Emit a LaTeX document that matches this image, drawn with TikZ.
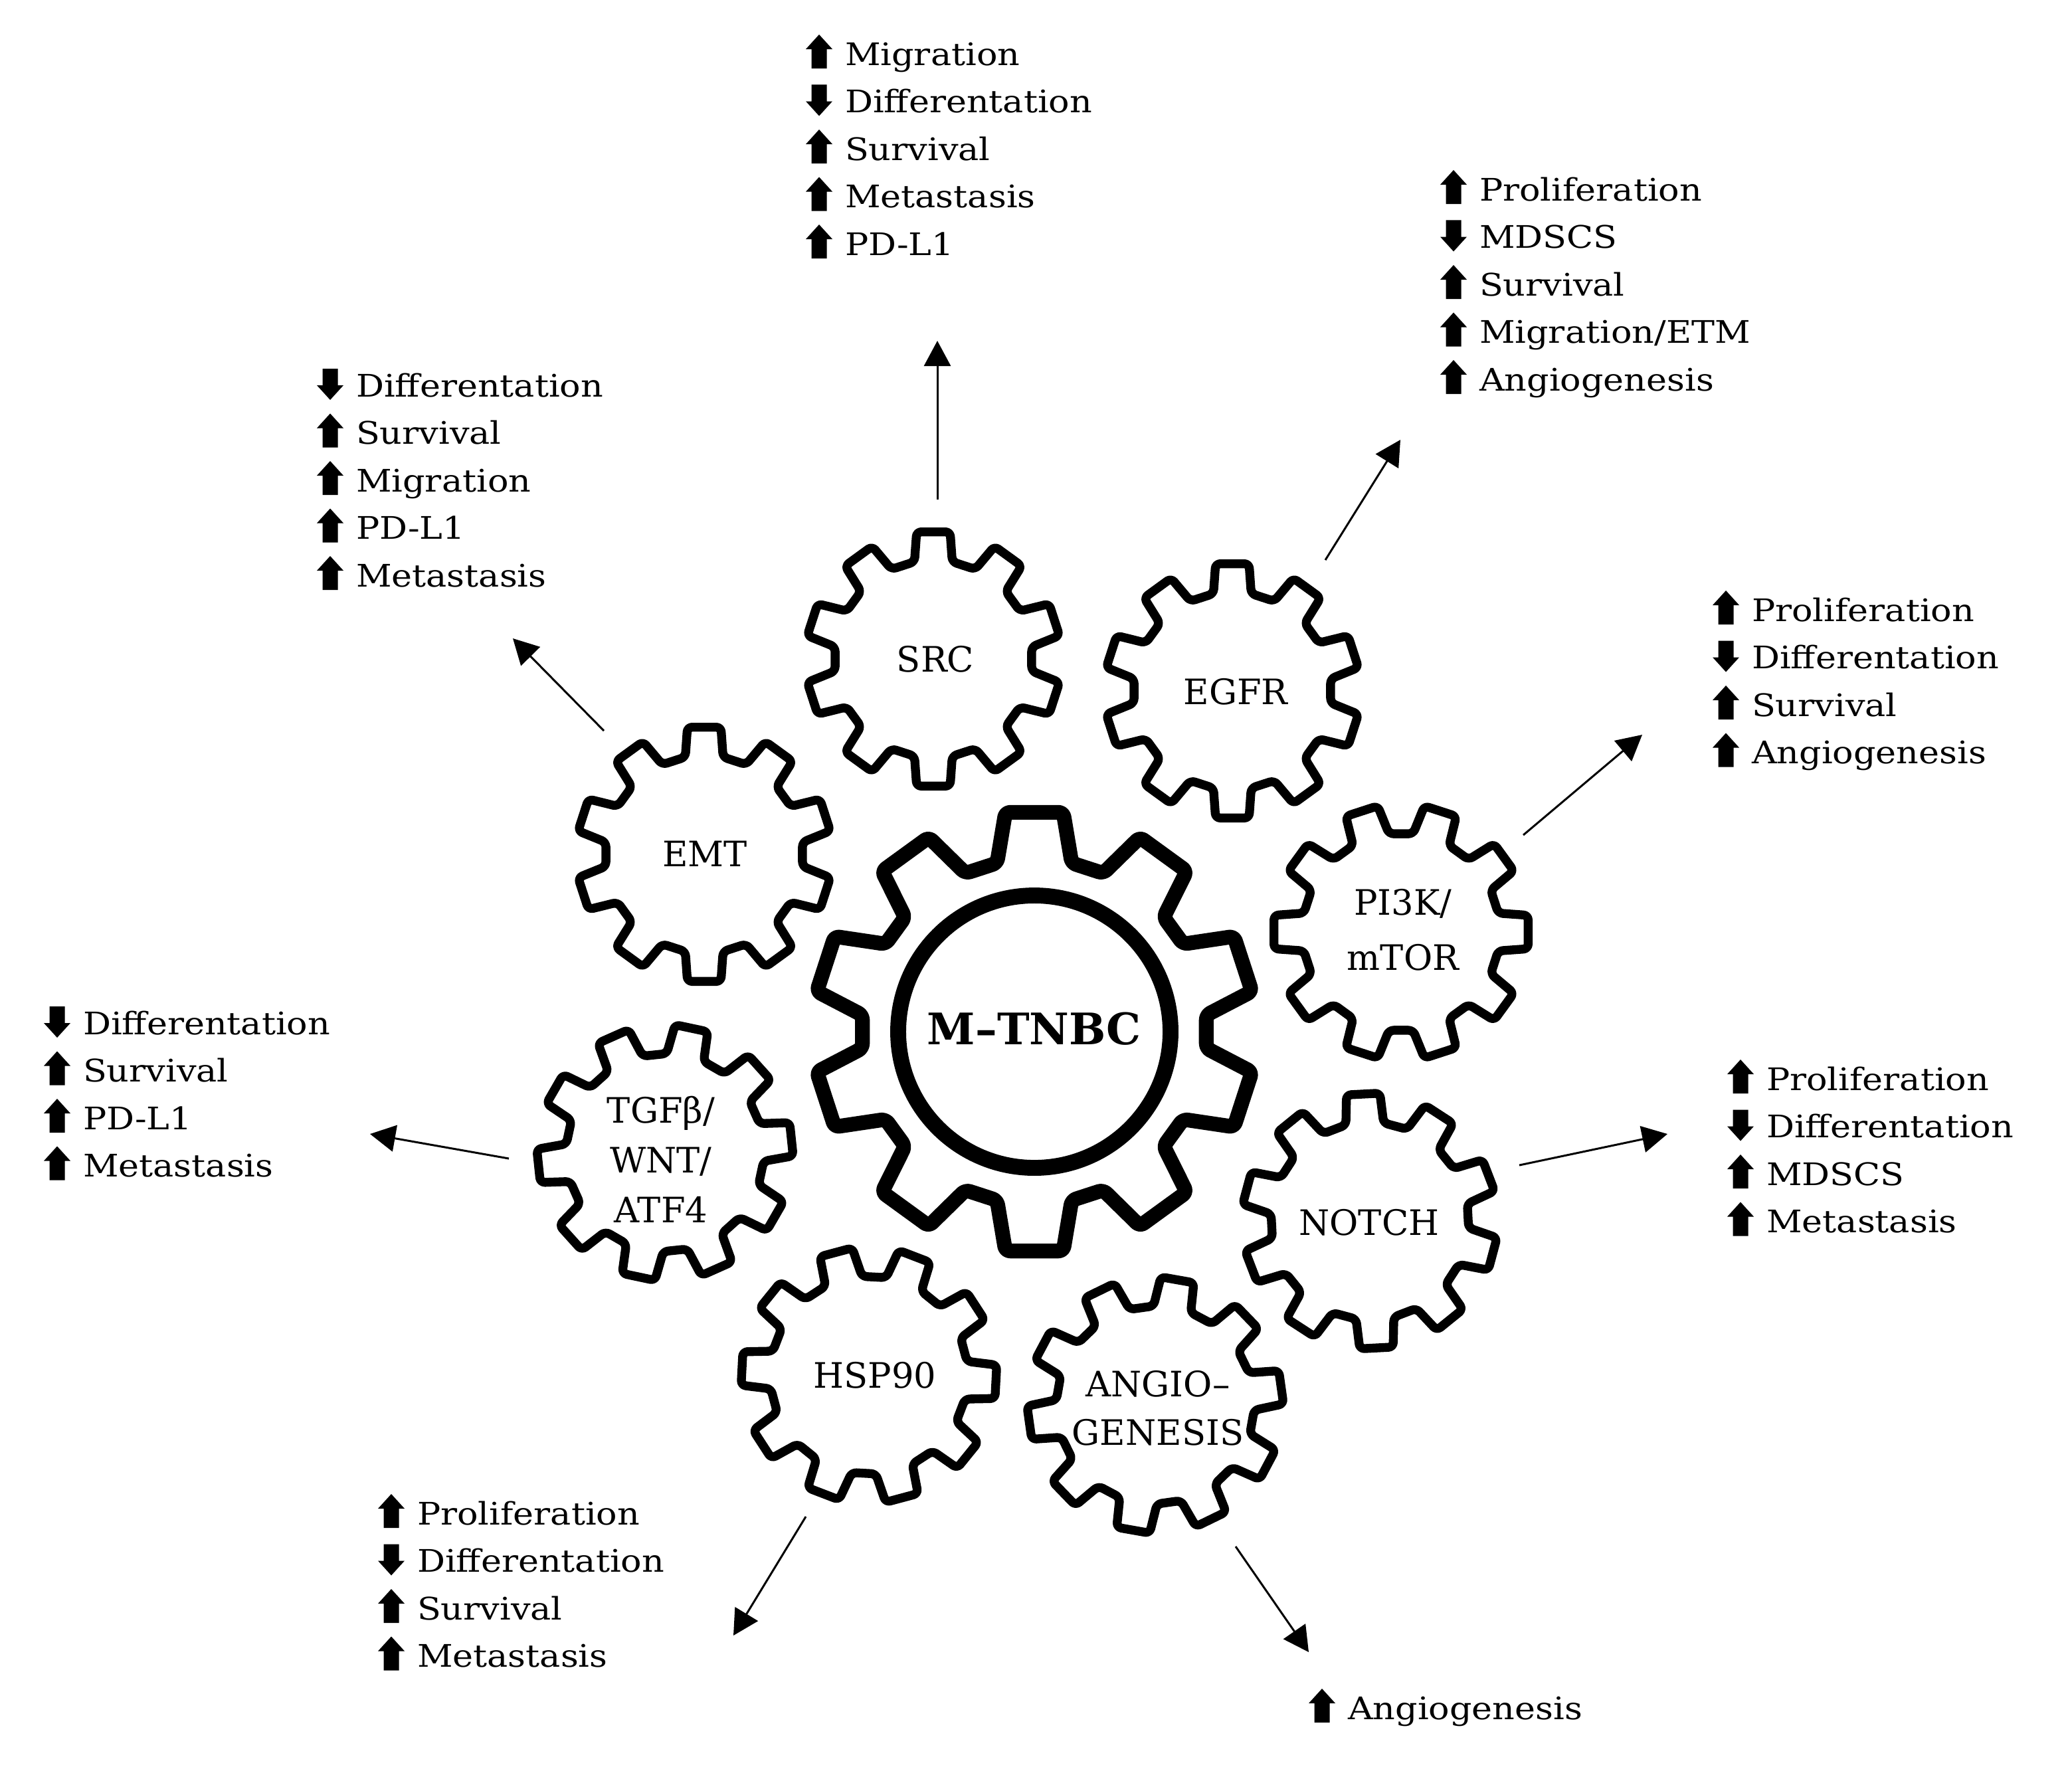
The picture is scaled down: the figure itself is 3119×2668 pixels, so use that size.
\documentclass[tikz,border=0pt]{standalone}
\usepackage{fontspec}
\setmainfont{DejaVu Serif}
\newfontfamily\listfont[FakeStretch=1.12]{DejaVu Serif}
\usetikzlibrary{arrows.meta}

\newcommand\arU{\tikz[baseline=0pt]\fill[black] (-0.2cm,0.24cm) -- (0cm,0.46cm) -- (0.2cm,0.24cm) -- (0.115cm,0.24cm) -- (0.115cm,-0.05cm) -- (-0.115cm,-0.05cm) -- (-0.115cm,0.24cm) -- cycle;\hspace{0.19cm}}
\newcommand\arD{\tikz[baseline=0pt]\fill[black] (-0.2cm,0.17cm) -- (0cm,-0.05cm) -- (0.2cm,0.17cm) -- (0.115cm,0.17cm) -- (0.115cm,0.42cm) -- (-0.115cm,0.42cm) -- (-0.115cm,0.17cm) -- cycle;\hspace{0.19cm}}

% cx, cy, rotation, tip radius, root radius, tip half-angle, root half-angle, line width
\newcommand\gear[8]{%
  \begin{scope}[shift={(#1,#2)}]
  \draw[line width=#8, line join=round, rounded corners=2pt]
    ({-(#3-#7)}:#5) -- ({-(#3-#6)}:#4) -- ({-(#3+#6)}:#4) -- ({-(#3+#7)}:#5)
    \foreach \i in {1,...,9}{ -- ({-(#3+36*\i-#7)}:#5) -- ({-(#3+36*\i-#6)}:#4) -- ({-(#3+36*\i+#6)}:#4) -- ({-(#3+36*\i+#7)}:#5) } -- cycle;
  \end{scope}}

\tikzset{
  listtxt/.style={anchor=base west, inner sep=0pt, outer sep=0pt, font=\listfont\fontsize{13.3pt}{16pt}\selectfont},
  glabel/.style={align=center, inner sep=0pt, font=\fontsize{15pt}{22pt}\selectfont},
  conn/.style={line width=0.85pt, -{Triangle[length=0.38cm, width=0.40cm]}},
}

\begin{document}
\begin{tikzpicture}[x=0.01cm, y=-0.01cm]
\fill[white] (0,0) rectangle (3119,2668);
\useasboundingbox (0,0) rectangle (3119,2668);

% central gear
\gear{1557}{1553}{90}{333}{260}{7.5}{12.5}{6.3pt}
\draw[line width=6.8pt] (1557,1553) circle (205);
\node[font=\bfseries\fontsize{18.6pt}{22pt}\selectfont, inner sep=0pt] (mtnbc) at (1557,1549) {M–TNBC};

% small gears
\gear{1405}{992}{90}{193}{149}{7.5}{11}{3.8pt}
\gear{1855}{1040}{90}{193}{149}{7.5}{11}{3.8pt}
\gear{1060}{1286}{90}{193}{149}{7.5}{11}{3.8pt}
\gear{2109}{1403}{0}{193}{149}{7.5}{11}{3.8pt}
\gear{2062}{1838}{93}{193}{149}{7.5}{11}{3.8pt}
\gear{1001}{1735}{6}{193}{149}{7.5}{11}{3.8pt}
\gear{1308}{2070}{-3}{193}{149}{7.5}{11}{3.8pt}
\gear{1739}{2115}{8}{193}{149}{7.5}{11}{3.8pt}

\node[glabel] (src) at (1408,992) {SRC};
\node[glabel] (egfr) at (1860,1041) {EGFR};
\node[glabel] (emt) at (1061,1285) {EMT};
\node[glabel, font=\fontsize{15pt}{23.5pt}\selectfont] (pi3k) at (2112,1400) {PI3K/\\mTOR};
\node[glabel] (notch) at (2061,1840) {NOTCH};
\node[glabel, font=\fontsize{15pt}{21.3pt}\selectfont] (tgf) at (995,1745) {TGFβ/\\WNT/\\ATF4};
\node[glabel] (hsp) at (1317,2070) {HSP90};
\node[glabel, font=\fontsize{15pt}{20.8pt}\selectfont] (angio) at (1743,2120) {ANGIO–\\GENESIS};

% connectors
\coordinate (a1s) at (1411,752);  \coordinate (a1e) at (1411,513);
\coordinate (a2s) at (1995,843);  \coordinate (a2e) at (2108,662);
\coordinate (a3s) at (909,1100);  \coordinate (a3e) at (772,961);
\coordinate (a4s) at (2293,1257); \coordinate (a4e) at (2472,1106);
\coordinate (a5s) at (766,1744);  \coordinate (a5e) at (557,1707);
\coordinate (a6s) at (2287,1754); \coordinate (a6e) at (2510,1707);
\coordinate (a7s) at (1213,2283); \coordinate (a7e) at (1104,2462);
\coordinate (a8s) at (1860,2328); \coordinate (a8e) at (1970,2487);
\draw[conn] (a1s) -- (a1e);
\draw[conn] (a2s) -- (a2e);
\draw[conn] (a3s) -- (a3e);
\draw[conn] (a4s) -- (a4e);
\draw[conn] (a5s) -- (a5e);
\draw[conn] (a6s) -- (a6e);
\draw[conn] (a7s) -- (a7e);
\draw[conn] (a8s) -- (a8e);

% SRC list
\node[listtxt] (s1) at (1213,98) {\arU Migration};
\node[listtxt] (s2) at (1213,169.5) {\arD Differentation};
\node[listtxt] (s3) at (1213,241) {\arU Survival};
\node[listtxt] (s4) at (1213,312.5) {\arU Metastasis};
\node[listtxt] (s5) at (1213,384) {\arU PD-L1};

% EGFR list
\node[listtxt] (e1) at (2168,302) {\arU Proliferation};
\node[listtxt] (e2) at (2168,373.5) {\arD MDSCS};
\node[listtxt] (e3) at (2168,445) {\arU Survival};
\node[listtxt] (e4) at (2168,516.5) {\arU Migration/ETM};
\node[listtxt] (e5) at (2168,588) {\arU Angiogenesis};

% EMT list
\node[listtxt] (m1) at (477,597) {\arD Differentation};
\node[listtxt] (m2) at (477,668.5) {\arU Survival};
\node[listtxt] (m3) at (477,740) {\arU Migration};
\node[listtxt] (m4) at (477,811.5) {\arU PD-L1};
\node[listtxt] (m5) at (477,883) {\arU Metastasis};

% PI3K list
\node[listtxt] (p1) at (2578,935) {\arU Proliferation};
\node[listtxt] (p2) at (2578,1006.5) {\arD Differentation};
\node[listtxt] (p3) at (2578,1078) {\arU Survival};
\node[listtxt] (p4) at (2578,1149.5) {\arU Angiogenesis};

% TGF list
\node[listtxt] (t1) at (66,1557) {\arD Differentation};
\node[listtxt] (t2) at (66,1628.5) {\arU Survival};
\node[listtxt] (t3) at (66,1700) {\arU PD-L1};
\node[listtxt] (t4) at (66,1771.5) {\arU Metastasis};

% NOTCH list
\node[listtxt] (n1) at (2600,1641) {\arU Proliferation};
\node[listtxt] (n2) at (2600,1712.5) {\arD Differentation};
\node[listtxt] (n3) at (2600,1784) {\arU MDSCS};
\node[listtxt] (n4) at (2600,1855.5) {\arU Metastasis};

% HSP90 list
\node[listtxt] (h1) at (569,2295) {\arU Proliferation};
\node[listtxt] (h2) at (569,2366.5) {\arD Differentation};
\node[listtxt] (h3) at (569,2438) {\arU Survival};
\node[listtxt] (h4) at (569,2509.5) {\arU Metastasis};

% ANGIO list
\node[listtxt] (g1) at (1970,2588) {\arU Angiogenesis};
\end{tikzpicture}
\end{document}
